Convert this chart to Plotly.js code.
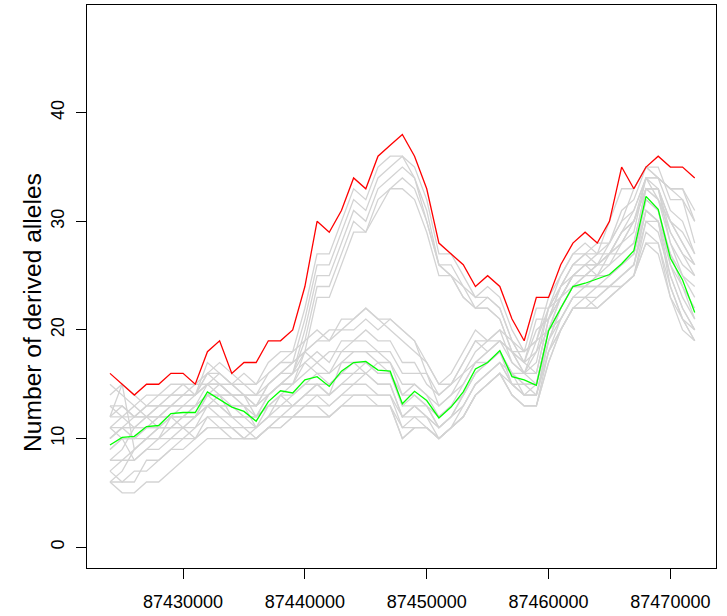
<!DOCTYPE html>
<html>
<head>
<meta charset="utf-8">
<script src="https://cdn.plot.ly/plotly-3.0.1.min.js"></script>
<style>html,body{margin:0;padding:0;background:#fff;}#chart{width:727px;height:616px;}</style>
</head>
<body>
<div id="chart"></div>
<script>
const positions = [87424000,87425000,87426000,87427000,87428000,87429000,87430000,87431000,87432000,87433000,
  87434000,87435000,87436000,87437000,87438000,87439000,87440000,87441000,87442000,87443000,
  87444000,87445000,87446000,87447000,87448000,87449000,87450000,87451000,87452000,87453000,
  87454000,87455000,87456000,87457000,87458000,87459000,87460000,87461000,87462000,87463000,
  87464000,87465000,87466000,87467000,87468000,87469000,87470000,87471000,87472000];

const redValues = [16,15,14,15,15,16,16,15,18,19,16,17,17,19,19,20,24,30,29,31,34,33,36,37,38,36,33,28,27,26,24,25,24,21,19,23,23,26,28,29,28,30,35,33,35,36,35,35,34];
const greenValues = [9.4,10.1,10.2,11.1,11.2,12.3,12.4,12.4,14.3,13.6,12.9,12.5,11.6,13.4,14.4,14.2,15.4,15.7,14.8,16.2,17.0,17.1,16.3,16.2,13.2,14.35,13.5,11.9,12.9,14.3,16.4,17.0,18.1,15.7,15.4,14.9,19.9,22.0,24.0,24.3,24.7,25.1,26.1,27.3,32.3,31.1,26.6,24.6,21.6];

const grayL01 = [14,15,14,13,14,15,15,14,17,16,15,16,15,17,18,18,19,20,19,21,21,22,21,20,19,18,17,15,16,18,20,19,20,19,18,19,23,25,27,27,28,28,30,33,35,34,33,33,31];
const grayL02 = [15,14,13,14,14,14,15,15,16,17,16,15,14,16,17,17,18,19,20,20,20,21,20,21,20,19,16,14,15,17,19,18,19,18,17,18,22,24,26,26,27,27,29,31,34,34,33,32,30];
const grayL03 = [12,13,12,13,13,14,14,14,16,15,14,14,13,15,16,16,17,18,17,19,19,20,19,19,17,17,15,14,15,16,18,19,20,17,16,17,22,24,25,26,26,27,28,30,33,33,30,29,27];
const grayL04 = [11,12,13,12,12,13,14,15,15,16,15,14,14,14,15,16,18,17,18,18,19,19,18,18,16,16,16,13,14,16,17,18,19,18,17,16,21,23,25,25,26,26,28,29,34,32,29,27,26];
const grayL05 = [10,11,11,12,12,13,13,13,15,14,14,13,13,14,15,15,16,17,16,17,18,18,17,17,15,15,14,13,14,15,17,18,19,17,16,16,21,23,25,25,26,27,27,28,33,32,28,26,25];
const grayL06 = [13,12,11,11,12,12,13,13,14,15,14,14,12,14,15,15,17,16,16,18,18,18,18,17,14,15,14,12,13,15,17,17,18,16,16,15,20,22,24,25,25,26,27,28,33,33,28,25,24];
const grayL07 = [9,10,10,11,11,12,12,12,14,14,13,12,12,13,14,14,15,16,15,16,17,17,16,16,13,14,13,12,13,14,16,17,18,16,15,15,20,22,24,24,25,25,26,27,32,31,27,24,22];
const grayL08 = [8,9,11,12,11,11,12,13,13,13,13,13,11,13,13,14,15,15,14,17,17,16,17,16,14,14,13,11,12,14,16,17,18,15,15,14,19,22,24,24,24,25,26,27,32,31,26,24,21];
const grayL09 = [8,8,9,10,10,11,11,12,13,13,12,11,11,12,13,13,14,15,14,15,16,16,15,15,12,13,12,11,12,13,15,16,17,15,14,14,19,21,23,23,24,24,25,26,31,30,26,23,21];
const grayL10 = [11,10,8,9,10,12,11,11,13,12,12,12,11,12,14,13,14,14,14,15,15,16,15,15,12,13,13,11,12,13,15,16,17,16,14,15,20,21,23,24,24,24,25,26,31,30,25,22,20];
const grayL11 = [7,8,8,9,9,10,10,11,12,12,11,11,10,11,12,13,13,14,13,14,15,15,14,14,11,12,12,10,11,13,15,16,17,15,14,14,18,21,23,23,23,24,25,26,30,29,25,22,20];
const grayL12 = [6,7,9,10,10,10,11,10,12,11,11,10,11,12,12,12,13,13,13,14,14,14,14,14,12,12,11,10,11,12,14,15,16,14,13,13,18,20,22,22,23,24,24,25,30,30,24,21,19];
const grayL13 = [7,6,6,8,8,9,9,10,11,11,10,10,10,11,12,12,13,13,12,13,14,14,13,13,11,11,11,10,11,12,14,15,16,14,13,13,17,20,22,22,22,23,24,25,29,28,23,21,19];
const grayL14 = [6,6,7,7,8,9,10,10,11,11,11,10,10,11,11,12,12,12,12,13,13,13,13,13,10,11,11,10,11,12,14,15,16,15,14,14,18,20,22,23,22,23,24,25,28,27,23,20,19];
const grayL15 = [6,5,5,6,6,7,8,9,10,10,10,10,10,11,11,12,12,12,12,13,13,13,13,13,10,11,11,10,11,12,14,15,16,14,13,13,17,20,22,22,22,23,24,25,28,28,24,21,20];
const grayL16 = [12,15,9,10,11,11,12,12,13,14,12,12,12,13,13,13,14,15,15,16,16,17,16,16,13,13,12,11,12,14,16,17,18,16,15,15,19,22,24,24,25,25,26,27,31,30,27,25,23];
const grayL17 = [10,11,12,12,13,13,14,14,15,15,15,14,13,15,16,17,18,19,19,20,21,22,21,21,20,19,17,15,15,17,19,19,19,18,18,19,22,23,24,25,26,27,28,30,33,32,30,28,26];
const grayU1 = [13,13,12,13,13,14,14,14,16,16,15,15,15,16,17,18,22,27,27,30,33,32,35,36,36,35,32,27,27,25,23,24,23,20,18,22,22,25,27,28,27,30,33,33,35,34,33,33,30];
const grayU2 = [12,12,12,12,13,13,13,14,15,15,14,14,14,15,16,17,21,26,26,29,32,31,34,35,36,34,31,26,26,24,23,23,22,19,17,21,21,24,26,27,27,28,31,32,35,35,32,32,28];
const grayU3 = [11,11,11,11,12,12,12,13,14,14,14,13,13,14,15,16,20,25,25,28,31,30,33,34,35,34,30,26,25,24,22,23,22,19,17,20,21,24,26,27,26,28,30,31,34,34,31,30,27];
const grayU4 = [10,11,10,11,11,12,12,12,14,13,13,13,12,14,15,16,19,24,24,27,30,29,32,33,34,33,30,26,25,23,22,22,21,18,16,19,20,23,25,26,26,27,29,30,34,33,30,28,26];
const grayU5 = [9,10,10,10,11,11,11,12,13,13,12,12,12,13,14,15,18,23,23,26,29,29,31,33,33,32,29,25,25,23,22,22,21,18,16,18,20,23,25,26,25,27,29,30,33,33,29,27,25];

const xTickValues = [87430000,87440000,87450000,87460000,87470000];
const xTickLabels = ["87430000","87440000","87450000","87460000","87470000"];
const yTickValues = [0,10,20,30,40];
const yTickLabels = ["0","10","20","30","40"];
const yTitle = "Number of derived alleles";

const grayLines = [grayL01,grayL02,grayL03,grayL04,grayL05,grayL06,grayL07,grayL08,grayL09,grayL10,
  grayL11,grayL12,grayL13,grayL14,grayL15,grayL16,grayL17,grayU1,grayU2,grayU3,grayU4,grayU5];

const traces = grayLines.map(v => ({
  x: positions, y: v, type: 'scatter', mode: 'lines',
  line: {color: '#D3D3D3', width: 1.3}, hoverinfo: 'skip', showlegend: false
}));
traces.push({x: positions, y: greenValues, type: 'scatter', mode: 'lines',
  line: {color: '#00FF00', width: 1.3}, showlegend: false});
traces.push({x: positions, y: redValues, type: 'scatter', mode: 'lines',
  line: {color: '#FF0000', width: 1.3}, showlegend: false});

const font = 'Liberation Sans, Arial, Helvetica, sans-serif';
const layout = {
  width: 727, height: 616,
  margin: {l: 87, r: 11, t: 5, b: 48, pad: 0},
  paper_bgcolor: '#fff', plot_bgcolor: '#fff',
  showlegend: false,
  xaxis: {
    range: [87422115, 87473745],
    tickmode: 'array', tickvals: xTickValues, ticktext: xTickLabels,
    showgrid: false, zeroline: false,
    ticks: 'outside', ticklen: 10, tickwidth: 1, tickcolor: '#000',
    showline: true, mirror: true, linecolor: '#000', linewidth: 1,
    ticklabelstandoff: 7,
    tickfont: {family: font, size: 18, color: '#000'}
  },
  yaxis: {
    range: [-1.92, 49.92],
    tickmode: 'array', tickvals: yTickValues, ticktext: yTickLabels,
    tickangle: -90,
    showgrid: false, zeroline: false,
    ticks: 'outside', ticklen: 10, tickwidth: 1, tickcolor: '#000',
    showline: true, mirror: true, linecolor: '#000', linewidth: 1,
    ticklabelstandoff: 5,
    tickfont: {family: font, size: 18, color: '#000'}
  },
  annotations: [{
    text: yTitle, xref: 'paper', yref: 'paper',
    x: -0.0875, y: 0.4547, xanchor: 'center', yanchor: 'middle',
    textangle: -90, showarrow: false,
    font: {family: font, size: 24.6, color: '#000'}
  }]
};
Plotly.newPlot('chart', traces, layout, {staticPlot: true, displayModeBar: false});
</script>
</body>
</html>
